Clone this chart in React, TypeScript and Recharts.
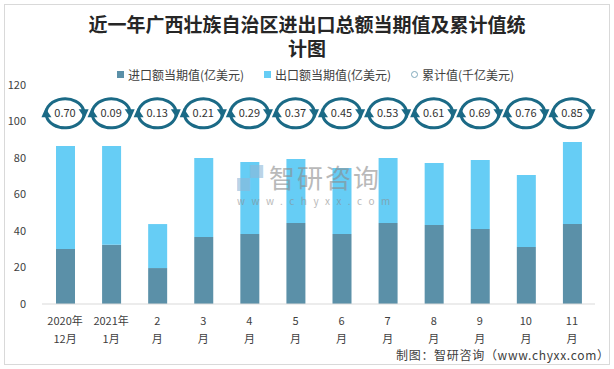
import { ComposedChart, Bar, Line, XAxis, YAxis } from "recharts";

const months = ["2020年\n12月", "2021年\n1月", "2\n月", "3\n月", "4\n月", "5\n月", "6\n月", "7\n月", "8\n月", "9\n月", "10\n月", "11\n月"];
const importVals = [30.1, 32.5, 19.7, 36.7, 38.4, 44.4, 38.4, 44.4, 43.3, 41.1, 31.2, 43.8];
const exportVals = [56.5, 54.1, 24.1, 43.3, 39.4, 35.1, 36.1, 35.6, 34.0, 37.8, 39.5, 45.0];
const cumVals = ["0.70", "0.09", "0.13", "0.21", "0.29", "0.37", "0.45", "0.53", "0.61", "0.69", "0.76", "0.85"];
// row the cumulative badges sit on (value axis units)
const badgeRow = [104.5, 104.5, 104.5, 104.5, 104.5, 104.5, 104.5, 104.5, 104.5, 104.5, 104.5, 104.5];

const data = months.map((m, i) => ({
  month: m,
  imp: importVals[i],
  exp: exportVals[i],
  badge: badgeRow[i],
  cum: cumVals[i],
}));

const IMP = "#5B90A8";
const EXP = "#66CDF5";
const RING = "#1B6A86";
const FONT = "'Microsoft YaHei', 'Noto Sans CJK SC', sans-serif";

function MonthTick(props: any) {
  const { x, y, payload } = props;
  const lines = String(payload.value).split("\n");
  return (
    <g>
      {lines.map((t, i) => (
        <text key={i} x={x} y={y + 13 + i * 18} textAnchor="middle" fontSize={11} fill="#404040" fontFamily={FONT}>
          {t}
        </text>
      ))}
    </g>
  );
}

function Badge(props: any) {
  const { cx, cy, payload } = props;
  if (cx == null || cy == null) return null;
  const rx = 19, ry = 14.5;
  const pt = (deg: number) => {
    const r = (deg * Math.PI) / 180;
    return [cx + rx * Math.cos(r), cy - ry * Math.sin(r)];
  };
  const [ax, ay] = pt(185);
  const [bx, by] = pt(12);
  const [c1x, c1y] = pt(-5);
  const [d1x, d1y] = pt(192);
  return (
    <g>
      <path d={`M${ax},${ay} A${rx},${ry} 0 0 1 ${bx},${by}`} fill="none" stroke={RING} strokeWidth={3} />
      <polygon points={`${bx - 5},${by - 1} ${bx + 5},${by - 1} ${bx + 1},${by + 8}`} fill={RING} />
      <path d={`M${c1x},${c1y} A${rx},${ry} 0 0 1 ${d1x},${d1y}`} fill="none" stroke={RING} strokeWidth={3} />
      <polygon points={`${d1x - 5},${d1y + 1} ${d1x + 5},${d1y + 1} ${d1x - 1},${d1y - 8}`} fill={RING} />
      <text x={cx} y={cy + 4} textAnchor="middle" fontSize={11} fill="#333" fontFamily={FONT}>
        {payload.cum}
      </text>
    </g>
  );
}

function TopLegend() {
  const items = [
    { label: "进口额当期值(亿美元)", color: IMP, x: 117 },
    { label: "出口额当期值(亿美元)", color: EXP, x: 264 },
    { label: "累计值(千亿美元)", color: "", x: 411 },
  ];
  return (
    <div style={{ position: "absolute", left: 0, top: 66, width: 614, height: 16 }}>
      {items.map((it) => (
        <div key={it.label} style={{ position: "absolute", left: it.x, top: 0, display: "flex", alignItems: "center", fontSize: 12, color: "#404040", fontFamily: FONT, whiteSpace: "nowrap" }}>
          {it.color ? (
            <span style={{ width: 7, height: 7, background: it.color, display: "inline-block", marginRight: 4 }} />
          ) : (
            <span style={{ width: 5, height: 5, border: "1px solid #7fa9bb", borderRadius: "50%", display: "inline-block", marginRight: 4 }} />
          )}
          {it.label}
        </div>
      ))}
    </div>
  );
}

export default function App() {
  return (
    <div style={{ position: "absolute", left: 0, top: 0, width: 614, height: 369, background: "#fff" }}>
      <div style={{ position: "absolute", left: 4, top: 4, width: 604, height: 359, border: "1px solid #d9d9d9" }} />
      <div style={{ position: "absolute", left: 82, top: 12, width: 450, textAlign: "center", fontSize: 19, fontWeight: "bold", lineHeight: "24px", color: "#262626", fontFamily: "'Noto Sans CJK SC', serif" }}>
        近一年广西壮族自治区进出口总额当期值及累计值统计图
      </div>
      <TopLegend />
      <ComposedChart width={614} height={369} data={data} margin={{ top: 85, right: 19, bottom: 35, left: 0 }} style={{ position: "absolute", left: 0, top: 0 }}>
        <XAxis dataKey="month" tick={<MonthTick />} tickLine={false} axisLine={{ stroke: "#d9d9d9" }} interval={0} height={30} />
        <YAxis domain={[0, 120]} ticks={[0, 20, 40, 60, 80, 100, 120]} width={42} tickLine={false} axisLine={false} tick={{ fontSize: 11, fill: "#404040", fontFamily: FONT }} tickMargin={10} />
        <Bar dataKey="imp" stackId="a" fill={IMP} barSize={19} isAnimationActive={false} />
        <Bar dataKey="exp" stackId="a" fill={EXP} barSize={19} isAnimationActive={false} />
        <Line dataKey="badge" stroke="none" dot={<Badge />} activeDot={false} isAnimationActive={false} />
      </ComposedChart>
      {/* watermark sits over the bars */}
      <div style={{ position: "absolute", left: 237, top: 163, color: "#8c8c8c", opacity: 0.6, fontFamily: FONT, pointerEvents: "none", whiteSpace: "nowrap" }}>
        <div style={{ fontSize: 26, lineHeight: "28px", letterSpacing: 2 }}>
          <span style={{ color: "#8fb8d8", fontWeight: "bold", marginRight: 4 }}>▞</span>智研咨询
        </div>
        <div style={{ fontSize: 10, letterSpacing: 6.5, marginTop: 2 }}>www.chyxx.com</div>
      </div>
      <div style={{ position: "absolute", left: 396, top: 348, fontSize: 12, lineHeight: "14px", letterSpacing: 0.7, color: "#404040", fontFamily: FONT, whiteSpace: "nowrap" }}>
        制图：智研咨询（www.chyxx.com）
      </div>
    </div>
  );
}
